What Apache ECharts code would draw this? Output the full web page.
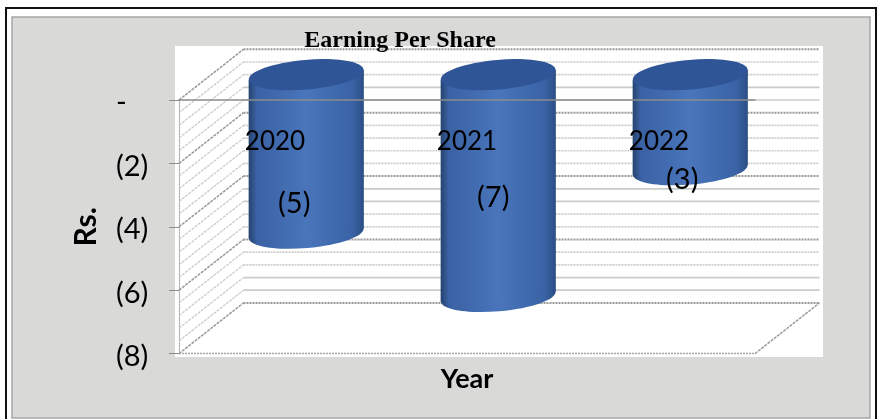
<!DOCTYPE html>
<html><head><meta charset="utf-8">
<style>html,body{margin:0;padding:0;background:#fff}#c{width:882px;height:419px}</style>
<script src="https://cdn.jsdelivr.net/npm/echarts@6/dist/echarts.min.js"></script>
</head><body><div id="c"></div>
<script>
const titleText = 'Earning Per Share';
const xName = 'Year';
const yName = 'Rs.';
const categories = ['2020', '2021', '2022'];
const eps = [-5, -7, -3];
const wallLevels = [0,-0.4,-0.8,-1.2,-1.6,-2,-2.4,-2.8,-3.2,-3.6,-4,-4.4,-4.8,-5.2,-5.6,-6,-6.4,-6.8,-7.2,-7.6,-8];
const solidLevels = [-1.2,-1.6,-4.4,-4.8,-7.2,-7.6];

const depth = {dx: 64.5, dy: -50.7};
const labelNudge = [[-12, 9], [-5, 3], [-8, -15]];
const FONT = 'Lato';

function fmt(v){ return v === 0 ? '-' : '(' + (-v) + ')'; }

function renderWall(params, api){
  const v = api.value(1), cs = params.coordSys, y = api.coord([0, v])[1];
  const major = Math.abs(v / 2 - Math.round(v / 2)) < 1e-6;
  const solid = solidLevels.includes(v);
  const col = major ? '#989898' : '#cbcbcb';
  const children = [
    {type:'line', shape:{x1:cs.x,y1:y,x2:cs.x+depth.dx,y2:y+depth.dy},
     style:{stroke:col,lineWidth:major?1.5:1.3,lineDash:[3,1]}},
    {type:'line', shape:{x1:cs.x+depth.dx,y1:y+depth.dy,x2:cs.x+cs.width+depth.dx,y2:y+depth.dy},
     style:{stroke:col,lineWidth:major?2:1.7,lineDash:solid?null:[2,1]}}
  ];
  if (v === -8) children.push(
    {type:'line', shape:{x1:cs.x+cs.width,y1:y,x2:cs.x+cs.width+depth.dx,y2:y+depth.dy},
     style:{stroke:'#9a9a9a',lineWidth:1.5,lineDash:[3,1]}},
    {type:'line', shape:{x1:cs.x,y1:y,x2:cs.x+cs.width,y2:y},
     style:{stroke:'#a8a8a8',lineWidth:1.5,lineDash:[2,1]}});
  return {type:'group',children};
}

function renderBar(params, api){
  const idx = api.value(0), v = api.value(1);
  const w = api.size([1,0])[0] * 0.6, rx = w / 2, ry = 14.8, tilt = 5;
  const cx = api.coord([idx,0])[0] + depth.dx / 2 - 1;
  const yT = api.coord([idx,0])[1] + depth.dy / 2;
  const yB = api.coord([idx,v])[1] + depth.dy / 2;
  const grad = new echarts.graphic.LinearGradient(0,0,1,0,[
    {offset:0,color:'#24436f'},{offset:0.07,color:'#3a62a4'},{offset:0.5,color:'#4a75bb'},
    {offset:0.9,color:'#3a63a6'},{offset:1,color:'#2b4f85'}]);
  const rot = Math.atan2(tilt * 2, w);
  const n = labelNudge[idx];
  return {type:'group',children:[
    {type:'ellipse',x:cx,y:yB,rotation:rot,shape:{cx:0,cy:0,rx,ry},style:{fill:grad}},
    {type:'polygon',shape:{points:[[cx-rx,yT+tilt],[cx+rx,yT-tilt],[cx+rx,yB-tilt],[cx-rx,yB+tilt]]},style:{fill:grad}},
    {type:'ellipse',x:cx,y:yT,rotation:rot,shape:{cx:0,cy:0,rx,ry},style:{fill:'#2f5597'}},
    {type:'text',x:cx+n[0],y:n[1]+api.coord([idx,-3])[1],z2:20,
     style:{text:fmt(v),fill:'#000',font:'29px '+FONT,textAlign:'center',textVerticalAlign:'middle'}}
  ]};
}

const chart = echarts.init(document.getElementById('c'), null, {width:882,height:419});
chart.setOption({
  animation:false,
  backgroundColor:'#ffffff',
  title:{text:titleText,left:395,top:24,textAlign:'center',
    textStyle:{fontFamily:'Liberation Serif',fontWeight:'bold',fontSize:24,color:'#000'}},
  graphic:[
    {type:'rect',z:-10,shape:{x:6,y:8,width:870,height:420},style:{fill:'#fff',stroke:'#111',lineWidth:2}},
    {type:'rect',z:-9,shape:{x:12,y:17,width:858,height:401},style:{fill:'#d9d9d8',stroke:'#a6a6a6',lineWidth:1.5}},
    {type:'rect',z:-8,shape:{x:175,y:46,width:648,height:311},style:{fill:'#fff'}}
  ],
  grid:{left:179,top:100,width:576,height:253.6,containLabel:false,outerBoundsMode:'none'},
  xAxis:{type:'category',data:categories,z:6,
    name:xName,nameLocation:'middle',nameGap:12,nameMoveOverlap:false,
    nameTextStyle:{fontFamily:FONT,fontWeight:'bold',fontSize:27,color:'#000'},
    axisLine:{show:true,onZero:true,lineStyle:{color:'#8c8c8c',width:1.5}},
    axisTick:{show:false},
    axisLabel:{show:true,margin:-225,fontFamily:FONT,fontSize:26,color:'#000'},
    splitLine:{show:false}},
  yAxis:{type:'value',min:-8,max:0,interval:2,
    name:yName,nameLocation:'middle',nameGap:78,nameRotate:90,nameMoveOverlap:false,
    nameTextStyle:{fontFamily:FONT,fontWeight:'bold',fontSize:30,color:'#000'},
    axisLine:{show:true,lineStyle:{color:'#b4b4b4',width:1.2,type:[2,1]}},
    axisTick:{show:true,length:10,lineStyle:{color:'#8c8c8c'}},
    splitLine:{show:false},
    axisLabel:{margin:63,align:'left',verticalAlign:'top',lineHeight:6,formatter:fmt,fontFamily:FONT,fontSize:29,color:'#000'}},
  series:[
    {type:'custom',name:'wall',coordinateSystem:'cartesian2d',silent:true,z:1,
     data:wallLevels.map(v=>[0,v]),encode:{x:0,y:1},renderItem:renderWall},
    {type:'custom',name:'EPS',coordinateSystem:'cartesian2d',z:3,
     data:eps.map((v,i)=>[i,v]),encode:{x:0,y:1},renderItem:renderBar}
  ]
});
</script></body></html>
